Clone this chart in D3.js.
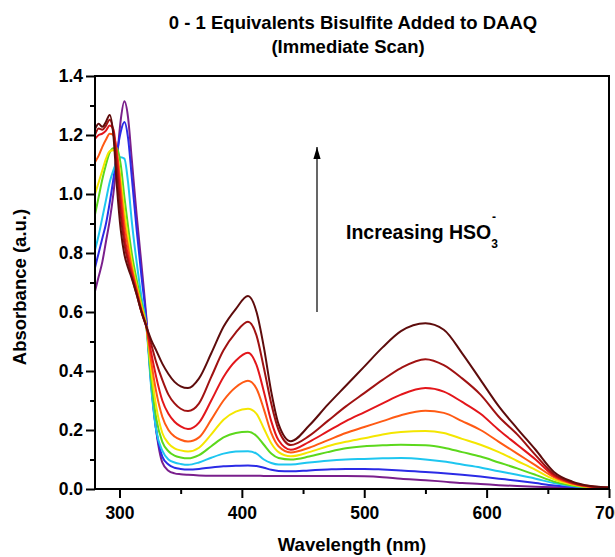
<!DOCTYPE html>
<html>
<head>
<meta charset="utf-8">
<script src="https://cdn.jsdelivr.net/npm/d3@7"></script>
<style>
  body { margin: 0; background: #fff; }
  text { font-family: "Liberation Sans", Arial, sans-serif; font-weight: bold; }
</style>
</head>
<body>
<div id="chart"></div>
<script>
// wavelengths (nm) shared by every scan
const wavelengths = [280,283,286,289,292,295,298,301,304,307, 310,314,318,322,326,330,335,340,345,350,
  356,365,375,385,395,405,412,418,424,430, 440,455,470,485,500,515,530,550,565,580,
  595,610,625,640,655,670,685,700];

// absorbance per equivalent of bisulfite added
const eq0000 = [0.67,0.72,0.77,0.84,0.91,1.0,1.12,1.25,1.314,1.26, 1.12,0.93,0.76,0.58,0.36,0.2,0.09,0.062,0.053,0.05,
  0.048,0.046,0.045,0.045,0.045,0.045,0.045,0.044,0.044,0.044, 0.044,0.044,0.044,0.044,0.043,0.04,0.035,0.03,0.025,0.02,
  0.017,0.013,0.01,0.008,0.006,0.005,0.004,0.003];
const eq0125 = [0.75,0.8,0.85,0.9,0.97,1.05,1.14,1.21,1.244,1.19, 1.06,0.88,0.72,0.57,0.35,0.2,0.11,0.083,0.072,0.068,
  0.066,0.068,0.073,0.077,0.079,0.08,0.078,0.072,0.065,0.061, 0.06,0.063,0.066,0.068,0.068,0.066,0.063,0.058,0.053,0.048,
  0.042,0.035,0.028,0.02,0.012,0.007,0.004,0.002];
const eq0250 = [0.81,0.86,0.92,0.98,1.04,1.08,1.11,1.125,1.12,1.04, 0.91,0.77,0.65,0.55,0.34,0.2,0.13,0.1,0.09,0.085,
  0.082,0.09,0.106,0.12,0.127,0.128,0.12,0.1,0.088,0.083, 0.083,0.09,0.096,0.1,0.102,0.104,0.105,0.1,0.093,0.083,
  0.073,0.06,0.048,0.035,0.02,0.01,0.005,0.003];
const eq0375 = [0.93,0.99,1.05,1.1,1.14,1.155,1.155,1.1,0.99,0.89, 0.8,0.71,0.63,0.55,0.37,0.24,0.16,0.128,0.113,0.107,
  0.104,0.115,0.145,0.175,0.19,0.194,0.18,0.15,0.12,0.105, 0.1,0.11,0.125,0.138,0.145,0.148,0.15,0.148,0.14,0.125,
  0.11,0.09,0.07,0.048,0.025,0.012,0.005,0.003];
const eq0500 = [1.0,1.04,1.08,1.12,1.145,1.148,1.13,1.05,0.94,0.85, 0.77,0.69,0.62,0.55,0.4,0.28,0.19,0.155,0.138,0.131,
  0.127,0.14,0.185,0.235,0.262,0.272,0.255,0.205,0.155,0.125, 0.111,0.125,0.145,0.16,0.172,0.185,0.193,0.197,0.19,0.17,
  0.15,0.125,0.095,0.065,0.033,0.015,0.006,0.003];
const eq0625 = [1.108,1.13,1.16,1.185,1.204,1.2,1.14,1.02,0.9,0.82, 0.75,0.68,0.61,0.55,0.43,0.33,0.245,0.2,0.178,0.167,
  0.161,0.175,0.235,0.3,0.345,0.367,0.34,0.27,0.19,0.145, 0.124,0.14,0.165,0.19,0.21,0.23,0.25,0.265,0.258,0.23,
  0.2,0.16,0.12,0.08,0.04,0.018,0.007,0.004];
const eq0750 = [1.187,1.2,1.205,1.215,1.232,1.22,1.12,0.98,0.86,0.79, 0.735,0.67,0.6,0.55,0.46,0.38,0.3,0.255,0.228,0.212,
  0.203,0.225,0.3,0.38,0.435,0.462,0.42,0.33,0.23,0.165, 0.133,0.16,0.195,0.23,0.26,0.29,0.32,0.342,0.33,0.295,
  0.255,0.2,0.15,0.1,0.045,0.02,0.008,0.004];
const eq0875 = [1.2,1.222,1.218,1.232,1.252,1.21,1.08,0.93,0.83,0.77, 0.72,0.66,0.6,0.55,0.49,0.43,0.37,0.32,0.29,0.272,
  0.264,0.29,0.38,0.47,0.53,0.567,0.52,0.41,0.29,0.2, 0.149,0.18,0.23,0.28,0.325,0.37,0.41,0.44,0.42,0.375,
  0.32,0.245,0.185,0.115,0.05,0.022,0.009,0.005];
const eq1000 = [1.22,1.238,1.228,1.245,1.268,1.2,1.02,0.88,0.795,0.75, 0.715,0.66,0.6,0.55,0.505,0.47,0.425,0.39,0.363,0.348,
  0.342,0.375,0.46,0.55,0.61,0.654,0.6,0.48,0.33,0.22, 0.162,0.215,0.285,0.35,0.415,0.48,0.535,0.562,0.54,0.46,
  0.37,0.28,0.205,0.133,0.058,0.025,0.01,0.005];

const scans  = [eq0000, eq0125, eq0250, eq0375, eq0500, eq0625, eq0750, eq0875, eq1000];
const colors = ['#7a1f8c', '#2b2be6', '#1ec6f0', '#5cd81c', '#f4e600', '#ff5a14', '#e3161b', '#a01212', '#5e0c0c'];

const yTicks = [0, 0.2, 0.4, 0.6, 0.8, 1.0, 1.2, 1.4];
const yMinor = [0.1, 0.3, 0.5, 0.7, 0.9, 1.1, 1.3];
const xTicks = [300, 400, 500, 600, 700];
const xMinor = [350, 450, 550, 650];

const W = 615, H = 557;
const margin = { top: 76, right: 6, bottom: 68, left: 95 };
const width = W - margin.left - margin.right;
const height = H - margin.top - margin.bottom;

const x = d3.scaleLinear().domain([280, 700]).range([0, width]);
const y = d3.scaleLinear().domain([0, 1.4]).range([height, 0]);

const svg = d3.select('#chart').append('svg')
  .attr('width', W)
  .attr('height', H);

svg.append('text')
  .attr('x', 353).attr('y', 29)
  .attr('text-anchor', 'middle').attr('font-size', 18.5)
  .text('0 - 1 Equivalents Bisulfite Added to DAAQ');
svg.append('text')
  .attr('x', 348).attr('y', 53)
  .attr('text-anchor', 'middle').attr('font-size', 18.5)
  .text('(Immediate Scan)');

const g = svg.append('g')
  .attr('transform', 'translate(' + margin.left + ',' + margin.top + ')');

g.append('clipPath').attr('id', 'plot')
  .append('rect').attr('width', width).attr('height', height);

const line = d3.line()
  .x((d, i) => x(wavelengths[i]))
  .y(d => y(d))
  .curve(d3.curveMonotoneX);

g.append('g').attr('clip-path', 'url(#plot)')
  .selectAll('path')
  .data(scans)
  .join('path')
    .attr('fill', 'none')
    .attr('stroke', (d, i) => colors[i])
    .attr('stroke-width', 2)
    .attr('d', line);

// axes
const styleAxis = a => {
  a.select('.domain').remove();
  a.selectAll('.tick line').attr('stroke', '#000').attr('stroke-width', 2);
  a.selectAll('.tick text').attr('font-size', 17.5).attr('fill', '#000').attr('font-family', '"Liberation Sans", Arial, sans-serif');
};

g.append('g')
  .call(d3.axisLeft(y).tickValues(yTicks).tickFormat(d3.format('.1f')).tickSize(9).tickPadding(3))
  .call(styleAxis);
g.append('g')
  .call(d3.axisLeft(y).tickValues(yMinor).tickFormat('').tickSize(5))
  .call(styleAxis);

g.append('g')
  .attr('transform', 'translate(0,' + height + ')')
  .call(d3.axisBottom(x).tickValues(xTicks).tickFormat(d3.format('d')).tickSize(9).tickPadding(9))
  .call(styleAxis);
g.append('g')
  .attr('transform', 'translate(0,' + height + ')')
  .call(d3.axisBottom(x).tickValues(xMinor).tickFormat('').tickSize(5))
  .call(styleAxis);

// frame
g.append('rect')
  .attr('width', width).attr('height', height)
  .attr('fill', 'none').attr('stroke', '#000').attr('stroke-width', 2);

// axis titles
svg.append('text')
  .attr('x', 352).attr('y', 551)
  .attr('text-anchor', 'middle').attr('font-size', 18.5)
  .text('Wavelength (nm)');
svg.append('text')
  .attr('transform', 'translate(26,' + 287 + ') rotate(-90)')
  .attr('text-anchor', 'middle').attr('font-size', 18.5)
  .text('Absorbance (a.u.)');

// arrow annotation
svg.append('defs').append('marker')
  .attr('id', 'head').attr('viewBox', '0 0 10 10')
  .attr('refX', 10).attr('refY', 5)
  .attr('markerWidth', 12).attr('markerHeight', 12)
  .attr('markerUnits', 'userSpaceOnUse')
  .attr('orient', 'auto')
  .append('path').attr('d', 'M0,2 L10,5 L0,8 Z').attr('fill', '#000');

svg.append('line')
  .attr('x1', 317).attr('y1', 312).attr('x2', 317).attr('y2', 147)
  .attr('stroke', '#000').attr('stroke-width', 1.2)
  .attr('marker-end', 'url(#head)');

const lbl = svg.append('text').attr('x', 346).attr('y', 239).attr('font-size', 19.5);
lbl.append('tspan').text('Increasing HSO');
lbl.append('tspan').attr('font-size', 12).attr('dy', 9).text('3');
lbl.append('tspan').attr('font-size', 12).attr('dx', -6).attr('dy', -27).text('-');
</script>
</body>
</html>
